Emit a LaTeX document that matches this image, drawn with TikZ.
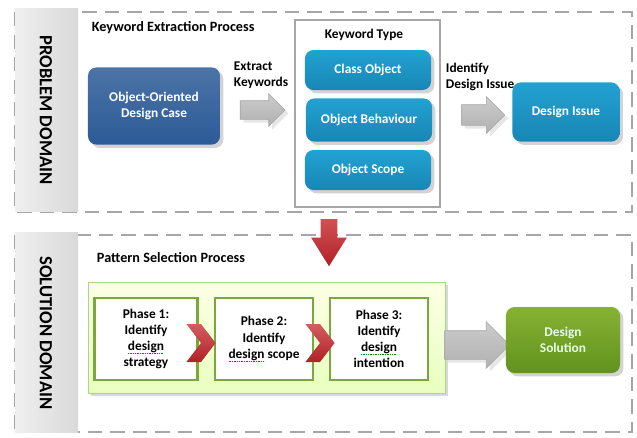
\documentclass[tikz,border=0pt]{standalone}
\usepackage{fontspec}
\setmainfont{Carlito}
\usetikzlibrary{shapes.arrows, shapes.symbols, shadows, positioning}

\definecolor{oodblue}{HTML}{2C5B97}
\definecolor{kwcyan}{HTML}{22A2D2}
\definecolor{kwcyandark}{HTML}{1886B5}
\definecolor{solgreen}{HTML}{86B233}
\definecolor{solgreendark}{HTML}{62921E}
\definecolor{phasegreen}{HTML}{7BA83C}
\definecolor{chevred}{HTML}{C4262A}

\newsavebox{\spellbox}
\newcommand{\spellmark}[1]{\sbox{\spellbox}{#1}\rlap{\usebox{\spellbox}}{\color{green!55!black}\hbox to \wd\spellbox{\xleaders\hbox{\rule[-2.2pt]{0.7pt}{0.6pt}\hskip0.5pt}\hfill}}}

\begin{document}
\begin{tikzpicture}[x=0.025cm, y=-0.025cm,
    font=\bfseries\fontsize{9.5}{11.5}\selectfont,
    domainbox/.style={draw=gray!70, line width=1.6pt, dash pattern=on 10pt off 6pt},
    sidebox/.style={left color=gray!12, right color=gray!30, draw=none},
    sidelabel/.style={rotate=-90, font=\bfseries\fontsize{13.2}{15}\selectfont},
    title/.style={anchor=west, font=\bfseries\fontsize{10.1}{12}\selectfont},
    roundbox/.style={rounded corners=6pt, text=white, align=center, drop shadow={opacity=0.35}},
    kwbox/.style={roundbox, top color=kwcyan, bottom color=kwcyandark, minimum width=3.15cm, minimum height=1.0cm},
    phasebox/.style={draw=phasegreen, line width=1.6pt, fill=white, align=center, minimum width=2.5cm, minimum height=2.05cm},
    blockarrow/.style={single arrow, top color=gray!40, bottom color=gray!62, draw=gray!70, drop shadow={opacity=0.2}},
    chevron/.style={signal, signal from=west, signal to=east, signal pointer angle=105, top color=chevred!75!white, bottom color=chevred!90!black, minimum width=0.7cm, minimum height=0.95cm, inner sep=0pt}]
    \useasboundingbox (0,0) rectangle (637,437);

    % Problem domain
    \draw[domainbox] (15,12) rectangle (632,212);
    \fill[sidebox] (15,8) rectangle (78,211);
    \node[sidelabel] (problem) at (46,110) {PROBLEM DOMAIN};
    \node[title] (kwtitle) at (87,28) {Keyword Extraction Process};

    \node[roundbox, top color=oodblue!85, bottom color=oodblue, minimum width=3.3cm, minimum height=1.93cm] (ood) at (154,106) {Object-Oriented\\Design Case};
    \node[anchor=west, align=left] (extract) at (229,75) {Extract\\Keywords};
    \node[blockarrow, inner sep=0.225cm, minimum width=0.8cm, minimum height=1.12cm, single arrow head extend=0.175cm] (arrA) at (258,110) {};

    % Keyword type frame
    \draw[gray!70, line width=1.3pt] (295,20) rectangle (440,207);
    \node (kwtype) at (364,35) {Keyword Type};
    \node[kwbox] (classobj) at (368,70) {Class Object};
    \node[kwbox, minimum height=1.08cm] (objbeh) at (369,120) {Object Behaviour};
    \node[kwbox] (objscope) at (368,170) {Object Scope};

    \node[anchor=west, align=left] (identify) at (441,77) {Identify\\Design Issue};
    \node[blockarrow, inner sep=0.25cm, minimum width=0.9cm, minimum height=1.08cm, single arrow head extend=0.2cm] (arrB) at (478,115) {};
    \node[kwbox, minimum width=2.68cm, minimum height=1.48cm] (issue) at (566,112) {Design Issue};

    % Solution domain
    \draw[domainbox] (15,235) rectangle (632,432);
    \fill[sidebox] (15,232) rectangle (78,432);
    \node[sidelabel] (solution) at (46,333) {SOLUTION DOMAIN};
    \node[title] (pstitle) at (92,258) {Pattern Selection Process};

    \fill[drop shadow={opacity=0.3}, top color=green!8!yellow!10, bottom color=green!35!yellow!25, draw=green!45!olive!50] (88,282) rectangle (445,393);
    \node[phasebox, minimum width=2.58cm] (phase1) at (146,339) {Phase 1:\\Identify\\\spellmark{design}\\strategy};
    \node[phasebox, minimum width=2.45cm] (phase2) at (264,339) {Phase 2:\\Identify\\\spellmark{design} scope};
    \node[phasebox, minimum width=2.45cm] (phase3) at (379,339) {Phase 3:\\Identify\\\spellmark{design}\\intention};
    \node[chevron] (chevA) at (201,343) {};
    \node[chevron] (chevB) at (320,343) {};

    \node[blockarrow, inner sep=0.35cm, minimum width=1.15cm, minimum height=1.62cm, single arrow head extend=0.225cm] (arrC) at (470,345) {};
    \node[roundbox, top color=solgreen, bottom color=solgreendark, text=white!90!green, minimum width=2.85cm, minimum height=1.65cm] (design) at (563,340) {Design\\Solution};

    % Link between the two processes
    \node[single arrow, shape border rotate=270, top color=chevred!80!white, bottom color=chevred!90!black, single arrow head extend=0.24cm, single arrow tip angle=64, minimum width=0.88cm, minimum height=1.18cm, inner sep=0.2cm] (down) at (329,236) {};
\end{tikzpicture}
\end{document}
